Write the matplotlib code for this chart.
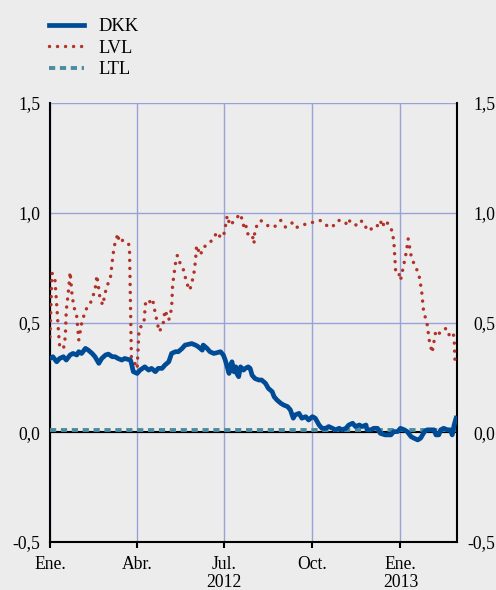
import numpy as np
import pandas as pd
import matplotlib
matplotlib.use("Agg")
import matplotlib.pyplot as plt
from matplotlib.lines import Line2D

plt.rcParams["font.family"] = ["Liberation Serif", "DejaVu Serif"]

# days since 1 Jan 2012
dkk_day = [0, 3, 7, 10, 14, 17, 21, 24, 28, 30, 33, 37, 40, 44, 47, 51, 54, 58, 61, 65,
           68, 71, 75, 78, 84, 85, 87, 91, 94, 99, 103, 106, 110, 113, 117, 120, 124, 127,
           131, 134, 138, 141, 145, 148, 152, 155, 159, 160, 164, 167, 171, 174, 178, 181,
           183, 185, 187, 188, 190, 192, 194, 195, 197, 199, 202, 204, 207, 209, 211, 214,
           218, 221, 225, 228, 232, 234, 237, 241, 244, 248, 251, 254, 256, 260, 262, 263,
           267, 270, 274, 277, 281, 284, 288, 291, 295, 298, 302, 305, 309, 312, 316, 319,
           323, 326, 330, 331, 335, 338, 342, 345, 350, 356, 359, 363, 366, 370, 373, 377,
           380, 384, 387, 391, 394, 398, 401, 403, 406, 408, 411, 415, 418, 420, 422, 424]
dkk_val = [0.336, 0.344, 0.321, 0.336, 0.344, 0.329, 0.352, 0.359, 0.352, 0.367, 0.359,
           0.382, 0.374, 0.359, 0.344, 0.314, 0.336, 0.352, 0.356, 0.344, 0.344, 0.336,
           0.329, 0.336, 0.329, 0.314, 0.276, 0.268, 0.283, 0.298, 0.283, 0.291, 0.276,
           0.291, 0.291, 0.306, 0.321, 0.359, 0.367, 0.367, 0.382, 0.397, 0.401, 0.404,
           0.397, 0.389, 0.374, 0.397, 0.382, 0.367, 0.359, 0.362, 0.367, 0.352, 0.329,
           0.298, 0.268, 0.298, 0.321, 0.276, 0.298, 0.268, 0.253, 0.298, 0.283, 0.291,
           0.298, 0.291, 0.260, 0.245, 0.238, 0.238, 0.223, 0.200, 0.185, 0.162, 0.147,
           0.132, 0.124, 0.117, 0.102, 0.064, 0.079, 0.086, 0.071, 0.064, 0.071, 0.056,
           0.071, 0.064, 0.033, 0.018, 0.018, 0.026, 0.018, 0.011, 0.018, 0.011, 0.018,
           0.033, 0.041, 0.026, 0.033, 0.026, 0.033, 0.011, 0.011, 0.018, 0.018, -0.005,
           -0.012, -0.012, 0.003, 0.003, 0.018, 0.011, 0.003, -0.020, -0.027, -0.035,
           -0.027, 0.003, 0.011, 0.011, 0.011, -0.012, -0.012, 0.011, 0.018, 0.011, 0.011,
           -0.012, 0.033, 0.064]

lvl_day = [0, 2, 5, 9, 10, 14, 16, 17, 19, 21, 23, 25, 28, 30, 33, 37, 42, 47, 49, 52,
           55, 59, 63, 66, 68, 71, 72, 75, 78, 82, 83, 85, 87, 91, 93, 98, 100, 104, 107,
           110, 114, 118, 120, 124, 127, 128, 131, 133, 136, 139, 143, 146, 150, 152, 153,
           157, 160, 164, 167, 171, 174, 178, 181, 184, 185, 188, 192, 197, 199, 202, 204,
           206, 211, 213, 214, 220, 227, 234, 241, 246, 254, 258, 268, 275, 282, 289, 295,
           298, 302, 309, 310, 319, 323, 328, 331, 336, 340, 345, 347, 350, 356, 359, 361,
           364, 366, 370, 372, 374, 377, 380, 385, 388, 390, 394, 396, 399, 403, 407, 413,
           416, 420, 422, 423]
lvl_val = [0.435, 0.725, 0.707, 0.450, 0.397, 0.379, 0.435, 0.556, 0.631, 0.730, 0.625,
           0.571, 0.526, 0.420, 0.495, 0.556, 0.586, 0.647, 0.715, 0.617, 0.579, 0.662,
           0.700, 0.814, 0.866, 0.905, 0.866, 0.874, 0.874, 0.859, 0.840, 0.340, 0.330,
           0.290, 0.472, 0.495, 0.601, 0.594, 0.609, 0.541, 0.458, 0.488, 0.556, 0.511,
           0.564, 0.670, 0.768, 0.806, 0.768, 0.745, 0.677, 0.647, 0.715, 0.783, 0.851,
           0.806, 0.844, 0.851, 0.866, 0.881, 0.912, 0.889, 0.889, 0.957, 0.987, 0.942,
           0.962, 0.987, 0.995, 0.942, 0.957, 0.904, 0.904, 0.859, 0.927, 0.965, 0.942,
           0.934, 0.965, 0.934, 0.957, 0.934, 0.950, 0.957, 0.965, 0.942, 0.934, 0.957,
           0.965, 0.950, 0.972, 0.942, 0.965, 0.957, 0.919, 0.927, 0.927, 0.965, 0.934,
           0.965, 0.934, 0.874, 0.730, 0.730, 0.692, 0.776, 0.820, 0.881, 0.806, 0.768,
           0.723, 0.647, 0.556, 0.488, 0.420, 0.362, 0.465, 0.450, 0.472, 0.442, 0.458,
           0.435, 0.314]

ltl_day = [0, 424]
ltl_val = [0.008, 0.008]

tick_dates = ["2012-01-01", "2012-04-01", "2012-07-01", "2012-10-01", "2013-01-01"]
tick_labels = ["Ene.", "Abr.", "Jul.\n2012", "Oct.", "Ene.\n2013"]
y_ticks = [-0.5, 0.0, 0.5, 1.0, 1.5]
y_labels = ["-0,5", "0,0", "0,5", "1,0", "1,5"]

BG = "#ECECEC"
GRID = "#98A2D8"
C_DKK = "#004B96"
C_LVL = "#B23228"
C_LTL = "#4B8CA0"
LVL_LS = (0, (0.01, 2.3))
LTL_LS = (0, (1.6, 1.2))

start = pd.Timestamp("2012-01-01")
def to_dates(days):
    return start + pd.to_timedelta(days, unit="D")

fig = plt.figure(figsize=(4.96, 5.9), dpi=100, facecolor=BG)
ax = fig.add_axes([50 / 496, 48 / 590, 407 / 496, 439 / 590])
ax.set_facecolor(BG)

ax.axhline(0, color="black", lw=1.5, zorder=2)
ax.plot(to_dates(ltl_day), ltl_val, color=C_LTL, lw=2.8, ls=LTL_LS,
        dash_capstyle="butt", zorder=3)
ax.plot(to_dates(lvl_day), lvl_val, color=C_LVL, lw=2.5, ls=LVL_LS,
        dash_capstyle="round", zorder=4)
ax.plot(to_dates(dkk_day), dkk_val, color=C_DKK, lw=3.4, solid_joinstyle="round", zorder=5)

ax.set_xlim(pd.Timestamp("2012-01-01"), pd.Timestamp("2013-03-01"))
ax.set_ylim(-0.5, 1.5)
ax.set_xticks(pd.to_datetime(tick_dates))
ax.set_xticklabels(tick_labels, fontsize=12.7, linespacing=1.08)
ax.set_yticks(y_ticks)
ax.set_yticklabels(y_labels, fontsize=12.7)
ax.tick_params(axis="x", direction="out", length=4, width=1.5, color="black", pad=6)
ax.tick_params(axis="y", length=0, pad=7)
ax.grid(True, color=GRID, lw=1, zorder=0)
ax.set_axisbelow(True)

ax.spines["top"].set_visible(False)
for s in ["left", "right", "bottom"]:
    ax.spines[s].set_color("black")
    ax.spines[s].set_linewidth(1.5)

ax2 = ax.twinx()
ax2.set_ylim(-0.5, 1.5)
ax2.set_yticks(y_ticks)
ax2.set_yticklabels(y_labels, fontsize=12.7, ha="right")
ax2.tick_params(axis="y", length=0, pad=27.5)
for s in ax2.spines.values():
    s.set_visible(False)

handles = [
    Line2D([], [], color=C_DKK, lw=3.4),
    Line2D([], [], color=C_LVL, lw=2.5, ls=LVL_LS, dash_capstyle="round"),
    Line2D([], [], color=C_LTL, lw=2.8, ls=LTL_LS, dash_capstyle="butt"),
]
fig.legend(handles, ["DKK", "LVL", "LTL"], loc="upper left",
           bbox_to_anchor=(49 / 496, 1 - 18 / 590), frameon=False, fontsize=13.3,
           handlelength=1.9, handletextpad=0.75, labelspacing=0.25,
           borderpad=0, borderaxespad=0)

fig.savefig("out.png", dpi=100, facecolor=BG)
